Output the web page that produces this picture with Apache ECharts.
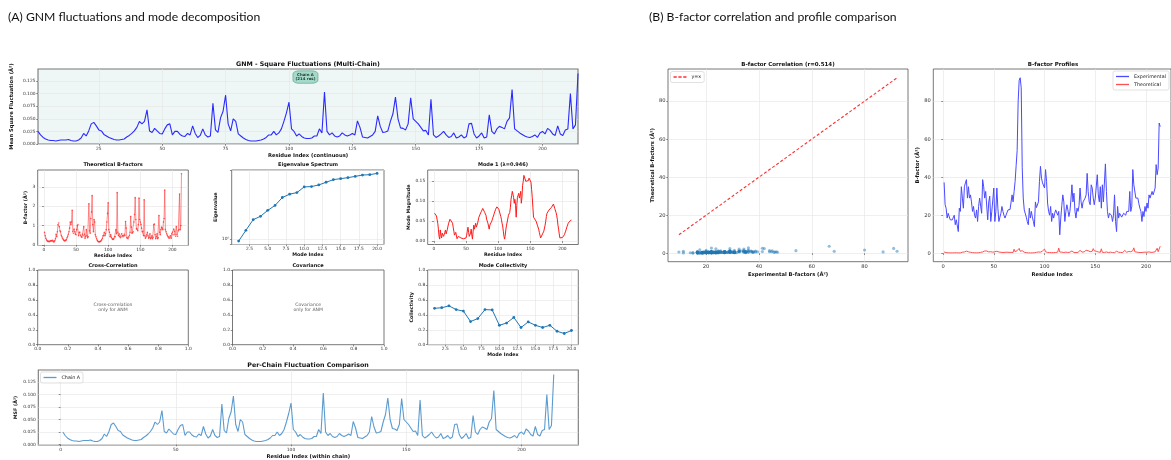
<!DOCTYPE html>
<html>
<head>
<meta charset="utf-8">
<script src="https://cdn.jsdelivr.net/npm/echarts@6/dist/echarts.min.js"></script>
<style>
  html, body { margin: 0; padding: 0; background: #fff; }
  #chart { width: 1171px; height: 460px; }
</style>
</head>
<body>
<div id="chart"></div>
<script>
// ---- data ---------------------------------------------------------------
// Residue numbering of chain A (214 residues)
const residues = Array.from({ length: 214 }, (_, i) => i + 1);

// GNM mean square fluctuations per residue (Å²)
const msf = [
  0.025, 0.018, 0.013, 0.010, 0.008, 0.007, 0.007, 0.006, 0.007, 0.008,
  0.008, 0.008, 0.009, 0.007, 0.006, 0.006, 0.008, 0.012, 0.021, 0.016,
  0.026, 0.040, 0.043, 0.036, 0.028, 0.026, 0.019, 0.016, 0.013, 0.011,
  0.009, 0.008, 0.008, 0.009, 0.010, 0.014, 0.017, 0.021, 0.026, 0.033,
  0.045, 0.040, 0.045, 0.068, 0.026, 0.023, 0.031, 0.026, 0.021, 0.020,
  0.030, 0.038, 0.040, 0.018, 0.025, 0.025, 0.019, 0.016, 0.015, 0.021,
  0.018, 0.036, 0.021, 0.013, 0.017, 0.030, 0.018, 0.014, 0.016, 0.081,
  0.028, 0.023, 0.052, 0.065, 0.097, 0.040, 0.026, 0.050, 0.045, 0.020,
  0.016, 0.012, 0.009, 0.007, 0.006, 0.006, 0.006, 0.007, 0.008, 0.010,
  0.013, 0.018, 0.018, 0.025, 0.018, 0.022, 0.030, 0.045, 0.062, 0.083,
  0.030, 0.025, 0.016, 0.020, 0.015, 0.012, 0.011, 0.011, 0.012, 0.016,
  0.016, 0.030, 0.022, 0.103, 0.025, 0.018, 0.022, 0.016, 0.014, 0.016,
  0.022, 0.018, 0.016, 0.018, 0.021, 0.018, 0.046, 0.033, 0.014, 0.013,
  0.012, 0.015, 0.018, 0.025, 0.056, 0.035, 0.023, 0.024, 0.026, 0.045,
  0.060, 0.093, 0.050, 0.032, 0.031, 0.028, 0.040, 0.092, 0.050, 0.045,
  0.040, 0.033, 0.026, 0.027, 0.018, 0.089, 0.018, 0.013, 0.016, 0.020,
  0.025, 0.018, 0.013, 0.015, 0.022, 0.012, 0.014, 0.018, 0.012, 0.015,
  0.040, 0.041, 0.020, 0.012, 0.016, 0.022, 0.012, 0.014, 0.058, 0.025,
  0.020, 0.030, 0.035, 0.033, 0.030, 0.045, 0.052, 0.108, 0.030, 0.026,
  0.022, 0.019, 0.016, 0.014, 0.013, 0.015, 0.018, 0.013, 0.022, 0.025,
  0.020, 0.031, 0.027, 0.020, 0.017, 0.036, 0.020, 0.017, 0.028, 0.030,
  0.100, 0.030, 0.038, 0.140
];

// Experimental (crystallographic) B-factors per residue (Å²)
const expB = [
  37.3, 25.5, 23.7, 18.5, 21.0, 22.0, 17.6, 18.5, 17.5, 16.7,
  20.0, 15.0, 17.6, 17.0, 11.4, 23.7, 22.0, 35.0, 29.0, 23.7,
  35.0, 37.0, 38.7, 29.0, 35.0, 29.0, 30.7, 27.0, 22.0, 24.6,
  20.0, 18.5, 22.8, 16.7, 24.6, 29.0, 28.0, 21.0, 38.7, 35.0,
  29.0, 32.5, 33.4, 17.6, 27.0, 30.0, 16.7, 22.0, 28.0, 34.3,
  16.7, 22.0, 34.3, 23.7, 16.7, 19.0, 21.0, 24.6, 22.0, 20.0,
  18.5, 20.0, 21.0, 22.8, 23.7, 23.0, 22.0, 30.7, 27.0, 32.5,
  37.8, 46.0, 54.0, 80.0, 91.0, 92.3, 87.0, 45.0, 29.0, 22.8,
  22.0, 19.0, 16.7, 15.0, 23.7, 18.5, 22.0, 19.0, 16.7, 14.0,
  27.0, 24.0, 23.7, 27.0, 37.8, 45.7, 39.5, 37.0, 36.0, 34.3,
  44.0, 37.8, 26.4, 22.0, 20.0, 24.6, 16.7, 21.0, 18.5, 21.0,
  22.8, 22.0, 20.0, 22.0, 9.7, 18.5, 25.0, 30.7, 27.0, 16.7,
  22.0, 25.5, 22.8, 19.3, 22.0, 28.0, 36.0, 27.0, 31.6, 22.0,
  18.5, 23.7, 22.0, 25.0, 34.3, 27.0, 23.7, 27.0, 27.0, 29.0,
  30.7, 42.0, 32.5, 27.0, 25.5, 36.0, 34.3, 29.0, 25.5, 29.0,
  29.0, 41.3, 30.7, 27.0, 35.0, 23.7, 36.0, 27.0, 27.0, 47.0,
  32.5, 22.0, 18.5, 21.0, 22.0, 20.0, 16.7, 20.0, 30.7, 16.7,
  11.4, 24.6, 18.5, 21.0, 20.0, 19.0, 18.5, 21.0, 20.0, 20.0,
  22.0, 21.0, 22.0, 32.5, 22.0, 24.6, 44.0, 36.0, 35.0, 29.0,
  30.0, 29.0, 26.0, 23.7, 22.0, 16.7, 22.0, 19.3, 24.6, 22.0,
  26.4, 23.7, 30.7, 29.0, 30.0, 32.5, 30.7, 31.0, 34.3, 46.6,
  41.3, 44.8, 68.5, 66.6
];

// Magnitude of the slowest GNM mode per residue
const mode1 = [
  0.070, 0.068, 0.066, 0.063, 0.058, 0.045, 0.030, 0.012, 0.005, 0.028,
  0.015, 0.008, 0.020, 0.025, 0.012, 0.010, 0.022, 0.028, 0.018, 0.020,
  0.030, 0.038, 0.045, 0.050, 0.055, 0.056, 0.056, 0.054, 0.045, 0.035,
  0.025, 0.015, 0.010, 0.022, 0.018, 0.006, 0.005, 0.012, 0.010, 0.008,
  0.010, 0.008, 0.008, 0.009, 0.007, 0.006, 0.008, 0.005, 0.004, 0.008,
  0.015, 0.025, 0.035, 0.022, 0.012, 0.010, 0.020, 0.030, 0.015, 0.005,
  0.025, 0.040, 0.030, 0.025, 0.045, 0.035, 0.030, 0.045, 0.050, 0.060,
  0.058, 0.068, 0.070, 0.075, 0.080, 0.082, 0.080, 0.078, 0.072, 0.068,
  0.065, 0.055, 0.050, 0.045, 0.038, 0.030, 0.040, 0.045, 0.042, 0.050,
  0.055, 0.060, 0.065, 0.070, 0.075, 0.080, 0.084, 0.086, 0.085, 0.082,
  0.080, 0.075, 0.068, 0.062, 0.055, 0.045, 0.038, 0.025, 0.012, 0.005,
  0.015, 0.030, 0.040, 0.048, 0.045, 0.065, 0.070, 0.072, 0.085, 0.105,
  0.115, 0.125, 0.130, 0.110, 0.095, 0.105, 0.090, 0.060, 0.090, 0.110,
  0.115, 0.120, 0.108, 0.115, 0.125, 0.095, 0.110, 0.140, 0.150, 0.165,
  0.170, 0.160, 0.150, 0.155, 0.148, 0.145, 0.152, 0.158, 0.162, 0.155,
  0.148, 0.130, 0.110, 0.085, 0.060, 0.065, 0.062, 0.055, 0.050, 0.045,
  0.040, 0.038, 0.030, 0.022, 0.015, 0.008, 0.005, 0.010, 0.018, 0.020,
  0.025, 0.030, 0.040, 0.050, 0.062, 0.070, 0.072, 0.075, 0.078, 0.080,
  0.080, 0.082, 0.085, 0.086, 0.090, 0.093, 0.088, 0.082, 0.078, 0.072,
  0.065, 0.055, 0.040, 0.030, 0.018, 0.008, 0.006, 0.008, 0.006, 0.009,
  0.010, 0.012, 0.016, 0.020, 0.025, 0.030, 0.036, 0.040, 0.045, 0.048,
  0.050, 0.051, 0.052, 0.053
];

// First 20 non-trivial GNM modes
const modeIndex = [1, 2, 3, 4, 5, 6, 7, 8, 9, 10, 11, 12, 13, 14, 15, 16, 17, 18, 19, 20];
const eigenvalues = [0.946, 1.28, 1.72, 1.89, 2.23, 2.56, 3.19, 3.50, 3.66, 4.29,
                     4.33, 4.53, 4.88, 5.25, 5.40, 5.55, 5.75, 5.97, 6.03, 6.25];
const collectivity = [0.487, 0.495, 0.520, 0.470, 0.450, 0.310, 0.350, 0.470, 0.465, 0.260,
                      0.290, 0.365, 0.230, 0.305, 0.260, 0.230, 0.260, 0.180, 0.150, 0.190];

// Tick labels
const msfTicks = [0, 0.025, 0.05, 0.075, 0.1, 0.125];
const contTicks = [25, 50, 75, 100, 125, 150, 175, 200];
const resTicks = [0, 50, 100, 150, 200];
const modeTicks = [2.5, 5, 7.5, 10, 12.5, 15, 17.5, 20];
const bTicks = [0, 20, 40, 60, 80];
const scatterXTicks = [20, 40, 60, 80];

// Theoretical B-factors: B = 8π²/3 · <ΔR²>
const theoB = msf.map(v => v * 8 * Math.PI * Math.PI / 3);

// ---- styling helpers ----------------------------------------------------
const FONT = 'DejaVu Sans';
const GRID_LINE = '#e4e4e4';
const LINE_ICON = 'path://M0,0H20V2H0Z';
const DASH_ICON = 'path://M0,0H5V2H0Z M7.5,0H12.5V2H7.5Z M15,0H20V2H15Z';

function grid(left, top, width, height, extra) {
  return Object.assign({
    left, top, width, height, show: true,
    borderColor: '#555', borderWidth: 0.8, backgroundColor: 'transparent'
  }, extra || {});
}

function axis(o) {
  const a = {
    type: o.type || 'value',
    gridIndex: o.grid,
    min: o.min, max: o.max,
    name: o.name || '',
    nameLocation: 'middle',
    nameGap: o.gap || 9,
    nameTextStyle: { fontFamily: FONT, fontWeight: 'bold', fontSize: o.nameSize || 4.8, color: '#111' },
    axisLine: { show: false },
    axisTick: { show: true, length: 1.8, lineStyle: { color: '#444', width: 0.6 } },
    axisLabel: { show: true, fontFamily: FONT, fontSize: o.fs || 4.4, color: '#333', margin: 2.5 },
    splitLine: { show: o.split !== false, lineStyle: { color: GRID_LINE, width: 0.6 } }
  };
  if (o.ticks) { a.axisTick.customValues = o.ticks; a.axisLabel.customValues = o.ticks; }
  if (o.interval) a.interval = o.interval;
  if (o.fmt) a.axisLabel.formatter = o.fmt;
  if (o.logBase) a.logBase = o.logBase;
  return a;
}

const fx = d => v => v.toFixed(d);

function title(text, x, y, size, weight, family, align) {
  return {
    type: 'text', x, y, silent: true,
    style: {
      text, fill: '#111',
      font: `${weight || 'bold'} ${size}px "${family || FONT}"`,
      align: align || 'center', verticalAlign: 'middle'
    }
  };
}

const pts = (xs, ys) => xs.map((x, i) => [x, ys[i]]);

// ---- layout -------------------------------------------------------------
const grids = [
  grid(38, 69, 540, 75, { borderColor: '#777', borderWidth: 1.1, backgroundColor: '#eef7f5' }), // 0 GNM MSF
  grid(37.7, 170, 150.6, 75.5),        // 1 theoretical B
  grid(231.7, 170, 152.3, 74.5),       // 2 eigenvalues
  grid(427.7, 170, 150.6, 74.5),       // 3 mode 1
  grid(37.7, 270, 150.6, 74.7),        // 4 cross-correlation
  grid(232.5, 270, 151.5, 74.7),       // 5 covariance
  grid(427.7, 270, 150.6, 74.7),       // 6 collectivity
  grid(38.3, 370, 540, 75, { borderColor: '#777', borderWidth: 1.1 }), // 7 per-chain
  grid(668, 69, 240, 192.7),           // 8 B-factor correlation
  grid(933.3, 69, 240, 192.7)          // 9 B-factor profiles
];

const xAxes = [
  axis({ grid: 0, min: 1, max: 214, ticks: contTicks, name: 'Residue Index (continuous)', gap: 9, nameSize: 5.2 }),
  axis({ grid: 1, min: -9.65, max: 224.65, ticks: resTicks, name: 'Residue Index', gap: 8 }),
  axis({ grid: 2, min: 0.05, max: 20.95, ticks: modeTicks, fmt: fx(1), name: 'Mode Index', gap: 8 }),
  axis({ grid: 3, min: -9.65, max: 224.65, ticks: resTicks, name: 'Residue Index', gap: 8 }),
  axis({ grid: 4, min: 0, max: 1, interval: 0.2, fmt: fx(1), split: false }),
  axis({ grid: 5, min: 0, max: 1, interval: 0.2, fmt: fx(1), split: false }),
  axis({ grid: 6, min: 0.05, max: 20.95, ticks: modeTicks, fmt: fx(1), name: 'Mode Index', gap: 8 }),
  axis({ grid: 7, min: -9.65, max: 224.65, ticks: resTicks, name: 'Residue Index (within chain)', gap: 9, nameSize: 5.2 }),
  axis({ grid: 8, min: 5.57, max: 96.43, ticks: scatterXTicks, fs: 5.2, name: 'Experimental B-factors (Å²)', gap: 10, nameSize: 5.2 }),
  axis({ grid: 9, min: -9.65, max: 224.65, ticks: resTicks, fs: 5.2, name: 'Residue Index', gap: 10, nameSize: 5.2 })
];

const yAxes = [
  axis({ grid: 0, min: 0, max: 0.149, ticks: msfTicks, fmt: fx(3), name: 'Mean Square Fluctuation (Å²)', gap: 24, nameSize: 5.2 }),
  axis({ grid: 1, min: -0.03, max: 3.88, ticks: [0, 1, 2, 3], name: 'B-factor (Å²)', gap: 9 }),
  axis({ grid: 2, type: 'log', logBase: 10, min: 0.861, max: 6.87, name: 'Eigenvalue', gap: 12,
         fmt: v => (Math.abs(v - 1) < 1e-6 ? '10⁰' : '') }),
  axis({ grid: 3, min: -0.0085, max: 0.1785, ticks: [0, 0.05, 0.1, 0.15], fmt: fx(2), name: 'Mode Magnitude', gap: 14 }),
  axis({ grid: 4, min: 0, max: 1, interval: 0.2, fmt: fx(1), split: false }),
  axis({ grid: 5, min: 0, max: 1, interval: 0.2, fmt: fx(1), split: false }),
  axis({ grid: 6, min: 0, max: 1, interval: 0.2, fmt: fx(1), name: 'Collectivity', gap: 11 }),
  axis({ grid: 7, min: -0.001, max: 0.149, ticks: msfTicks, fmt: fx(3), name: 'MSF (Å²)', gap: 20 }),
  axis({ grid: 8, min: -4.45, max: 96.9, ticks: bTicks, fs: 5.2, name: 'Theoretical B-factors (Å²)', gap: 12, nameSize: 5.2 }),
  axis({ grid: 9, min: -4.45, max: 96.9, ticks: bTicks, fs: 5.2, name: 'B-factor (Å²)', gap: 12, nameSize: 5.2 })
];

const expMin = Math.min(...expB), expMax = Math.max(...expB);

const noteLabel = text => ({
  show: true, position: 'inside', formatter: text,
  fontFamily: FONT, fontSize: 4.6, color: '#333', lineHeight: 5.6, align: 'center'
});

const series = [
  {
    name: 'MSF', type: 'line', xAxisIndex: 0, yAxisIndex: 0, symbol: 'none',
    data: pts(residues, msf), lineStyle: { color: '#2b2bff', width: 1.1 },
    markPoint: {
      silent: true, animation: false,
      data: [{
        coord: [106.5, 0.133], symbol: 'roundRect', symbolSize: [25, 12.5],
        itemStyle: { color: '#a5d9c8', borderColor: '#5a9f8c', borderWidth: 0.6 },
        label: { show: true, position: 'inside', formatter: 'Chain A\n(214 res)',
                 fontFamily: FONT, fontSize: 3.9, fontWeight: 'bold', color: '#1d3a33', lineHeight: 4.6 }
      }]
    }
  },
  {
    name: 'Theoretical B', type: 'line', xAxisIndex: 1, yAxisIndex: 1,
    symbol: 'circle', symbolSize: 1.6, data: pts(residues, theoB),
    itemStyle: { color: 'rgba(255,40,40,0.75)' }, lineStyle: { color: 'rgba(255,40,40,0.75)', width: 0.7 }
  },
  {
    name: 'Eigenvalue', type: 'line', xAxisIndex: 2, yAxisIndex: 2,
    symbol: 'circle', symbolSize: 2.8, data: pts(modeIndex, eigenvalues),
    itemStyle: { color: '#1f77b4' }, lineStyle: { color: '#1f77b4', width: 1 }
  },
  {
    name: 'Mode 1', type: 'line', xAxisIndex: 3, yAxisIndex: 3, symbol: 'none',
    data: pts(residues, mode1), lineStyle: { color: '#ff1a1a', width: 1 }
  },
  {
    name: 'CC note', type: 'scatter', xAxisIndex: 4, yAxisIndex: 4, symbolSize: 0,
    data: [[0.5, 0.5]], label: noteLabel('Cross-correlation\nonly for ANM')
  },
  {
    name: 'Cov note', type: 'scatter', xAxisIndex: 5, yAxisIndex: 5, symbolSize: 0,
    data: [[0.5, 0.5]], label: noteLabel('Covariance\nonly for ANM')
  },
  {
    name: 'Collectivity', type: 'line', xAxisIndex: 6, yAxisIndex: 6,
    symbol: 'circle', symbolSize: 2.8, data: pts(modeIndex, collectivity),
    itemStyle: { color: '#1f77b4' }, lineStyle: { color: '#1f77b4', width: 1 }
  },
  {
    name: 'Chain A', type: 'line', xAxisIndex: 7, yAxisIndex: 7, symbol: 'none',
    data: pts(residues, msf), itemStyle: { color: '#5b9bd0' }, lineStyle: { color: '#5b9bd0', width: 1.1 }
  },
  {
    name: 'Residues', type: 'scatter', xAxisIndex: 8, yAxisIndex: 8, symbolSize: 3.2,
    data: pts(expB, theoB), itemStyle: { color: 'rgba(31,119,180,0.6)' }
  },
  {
    name: 'y=x', type: 'line', xAxisIndex: 8, yAxisIndex: 8, symbol: 'none',
    data: [[expMin, expMin], [expMax, expMax]],
    itemStyle: { color: '#ff3030' },
    lineStyle: { color: '#ff3030', width: 1.1, type: [3, 2] }
  },
  {
    name: 'Experimental', type: 'line', xAxisIndex: 9, yAxisIndex: 9, symbol: 'none',
    data: pts(residues, expB), itemStyle: { color: '#4a4aff' }, lineStyle: { color: '#4a4aff', width: 1 }
  },
  {
    name: 'Theoretical', type: 'line', xAxisIndex: 9, yAxisIndex: 9, symbol: 'none',
    data: pts(residues, theoB), itemStyle: { color: '#ff5050' }, lineStyle: { color: '#ff5050', width: 1 }
  }
];

const legendBase = {
  orient: 'vertical', itemWidth: 13, itemHeight: 1.3, itemGap: 3,
  padding: [3, 3], borderColor: '#cccccc', borderWidth: 0.6, borderRadius: 2,
  backgroundColor: 'rgba(255,255,255,0.85)',
  textStyle: { fontFamily: FONT, fontSize: 4.8, color: '#222' },
  selectedMode: false
};

const option = {
  animation: false,
  backgroundColor: '#ffffff',
  grid: grids,
  xAxis: xAxes,
  yAxis: yAxes,
  series,
  legend: [
    Object.assign({}, legendBase, { data: [{ name: 'Chain A', icon: LINE_ICON }], left: 40.5, top: 372 }),
    Object.assign({}, legendBase, { data: [{ name: 'y=x', icon: DASH_ICON }], left: 670.5, top: 71.5 }),
    Object.assign({}, legendBase, {
      data: [{ name: 'Experimental', icon: LINE_ICON }, { name: 'Theoretical', icon: LINE_ICON }],
      left: 1113, top: 71
    })
  ],
  graphic: [
    title('(A) GNM fluctuations and mode decomposition', 8, 17, 12.2, 'normal', 'Lato', 'left'),
    title('(B) B-factor correlation and profile comparison', 649, 17, 12.2, 'normal', 'Lato', 'left'),
    title('GNM - Square Fluctuations (Multi-Chain)', 308, 64.5, 6.3),
    title('Theoretical B-factors', 113, 165, 5),
    title('Eigenvalue Spectrum', 308, 165, 5),
    title('Mode 1 (λ=0.946)', 503, 165, 5),
    title('Cross-Correlation', 113, 265.5, 5),
    title('Covariance', 308, 265.5, 5),
    title('Mode Collectivity', 503, 265.5, 5),
    title('Per-Chain Fluctuation Comparison', 308, 365.5, 6.3),
    title('B-factor Correlation (r=0.514)', 788, 65, 5.5),
    title('B-factor Profiles', 1053, 65, 5.5)
  ]
};

const chart = echarts.init(document.getElementById('chart'), null, { renderer: 'canvas' });
chart.setOption(option);
</script>
</body>
</html>
